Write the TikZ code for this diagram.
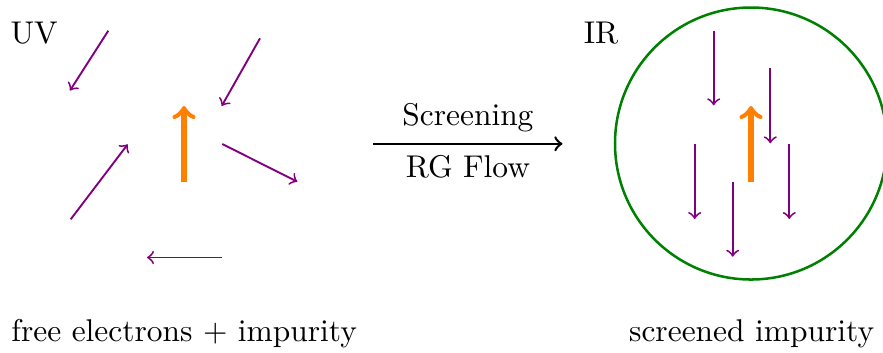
\documentclass[tikz,border=0pt]{standalone}
\usetikzlibrary{arrows}
\definecolor{spin}{rgb}{0.5,0,0.5}
\definecolor{imp}{rgb}{1,0.5,0}
\definecolor{cloud}{rgb}{0,0.5,0}
\begin{document}
\begin{tikzpicture}[x=0.318pt,y=-0.318pt,
  electron/.style={spin,semithick,->},
  impurity/.style={imp,ultra thick,->},
  label/.style={inner sep=0pt,anchor=base west}]
\useasboundingbox (0,0) rectangle (883,352);

% --- UV: free electrons around the impurity
\node[label] (uv) at (10,43.3) {UV};
\coordinate (a1s) at (108.3,30.7);  \coordinate (a1e) at (70,90.5);
\coordinate (a2s) at (260,38.3);    \coordinate (a2e) at (221.7,106);
\coordinate (a3s) at (70.7,219.3);  \coordinate (a3e) at (127.7,144.3);
\coordinate (a4s) at (222.3,144);   \coordinate (a4e) at (297.3,181.7);
\coordinate (a5s) at (221.7,257.5); \coordinate (a5e) at (147,257.5);
\coordinate (i1s) at (184,181.7);   \coordinate (i1e) at (184,106);
\foreach \k in {1,...,5} \draw[electron] (a\k s) -- (a\k e);
\draw[impurity] (i1s) -- (i1e);
\node[label] (uvtext) at (10.8,341.7) {free electrons $+$ impurity};

% --- RG flow
\coordinate (fs) at (373.3,143.8);
\coordinate (fe) at (562.5,143.8);
\draw[thick,->] (fs) -- node[above] (scr) {Screening} node[below] (rg) {RG Flow} (fe);

% --- IR: screening cloud
\node[label] (ir) at (583.2,43) {IR};
\coordinate (c) at (751,143.5);
\draw[cloud,thick] (c) circle [radius=136];
\coordinate (b1s) at (713.7,30.7);  \coordinate (b1e) at (713.7,105.3);
\coordinate (b2s) at (770.3,68.3);  \coordinate (b2e) at (770.3,143.3);
\coordinate (b3s) at (694.7,144);   \coordinate (b3e) at (694.7,219);
\coordinate (b4s) at (789.3,144);   \coordinate (b4e) at (789.3,219);
\coordinate (b5s) at (732.7,181.7); \coordinate (b5e) at (732.7,256.7);
\coordinate (i2s) at (751,181.7);   \coordinate (i2e) at (751,106);
\foreach \k in {1,...,5} \draw[electron] (b\k s) -- (b\k e);
\draw[impurity] (i2s) -- (i2e);
\node[label] (irtext) at (628.5,341.7) {screened impurity};
\end{tikzpicture}
\end{document}
